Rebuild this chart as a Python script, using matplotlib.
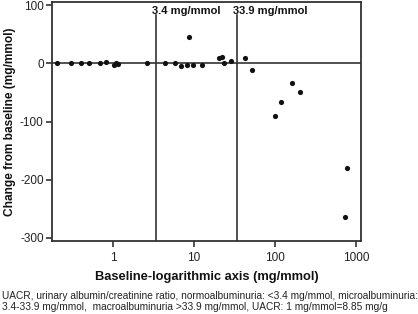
import numpy as np
import matplotlib.pyplot as plt
from matplotlib.ticker import FixedLocator, NullLocator, FixedFormatter

plt.rcParams['font.family'] = ['Liberation Sans', 'DejaVu Sans']
plt.rcParams['axes.unicode_minus'] = False

# baseline UACR (mg/mmol) and change from baseline (mg/mmol)
baseline = [0.205, 0.30, 0.405, 0.51, 0.69, 0.81, 1.03, 1.10, 1.15, 2.65,
            4.4, 5.9, 6.9, 8.1, 8.6, 9.6, 12.4, 20.5, 22.4, 23.7, 28.6,
            42.3, 52, 100, 120, 162, 205, 738, 781]
change = [0, 0, 0, 0, 0, 2, -2, 0, -1, 0,
          0, 0, -5, -3, 46, -3, -3, 10, 12, 0, 5,
          10, -12, -90, -67, -33, -50, -265, -181]

thresholds = [3.4, 33.9]
threshold_labels = ["3.4 mg/mmol", "33.9 mg/mmol"]
xticks = [1, 10, 100, 1000]
yticks = [100, 0, -100, -200, -300]

caption = ("UACR, urinary albumin/creatinine ratio, normoalbuminuria: <3.4 mg/mmol, microalbuminuria:\n"
           "3.4-33.9 mg/mmol,  macroalbuminuria >33.9 mg/mmol, UACR: 1 mg/mmol=8.85 mg/g")

fig = plt.figure(figsize=(4.18, 3.14), dpi=100)
ax = fig.add_axes([0.1244, 0.2325, 0.7392, 0.7611])

lc = "#333333"
ax.axhline(0, color=lc, lw=1.2, zorder=1)
for t, lab in zip(thresholds, threshold_labels):
    ax.axvline(t, ymax=0.946, color=lc, lw=1.2, zorder=1)
    ax.annotate(lab, xy=(t, 91), xytext=(-3, 0), textcoords="offset points",
                ha="left", va="center", fontsize=8, fontweight="bold", color="#111111")

ax.scatter(baseline, change, s=14, color="#111111", zorder=3, linewidths=0)

ax.set_xscale("log")
ax.set_xlim(0.177, 1150)
ax.set_ylim(-306, 106)
ax.xaxis.set_major_locator(FixedLocator(xticks))
ax.xaxis.set_major_formatter(FixedFormatter([str(v) for v in xticks]))
ax.xaxis.set_minor_locator(NullLocator())
ax.set_yticks(yticks)

for sp in ax.spines.values():
    sp.set_color(lc)
    sp.set_linewidth(1.3)
ax.tick_params(direction="out", length=4, width=1.2, color=lc, labelsize=8.5,
               labelcolor="#222222", pad=2)
ax.tick_params(axis="x", pad=4)

ax.set_xlabel("Baseline-logarithmic axis (mg/mmol)", fontsize=9.3, fontweight="bold",
              color="#111111", labelpad=5)
ax.set_ylabel("Change from baseline (mg/mmol)", fontsize=8.6, fontweight="bold",
              color="#111111", labelpad=3)

fig.text(0.005, 0.006, caption, fontsize=7.3, color="#222222", ha="left", va="bottom",
         linespacing=1.15)

fig.savefig("out.png", dpi=100)
